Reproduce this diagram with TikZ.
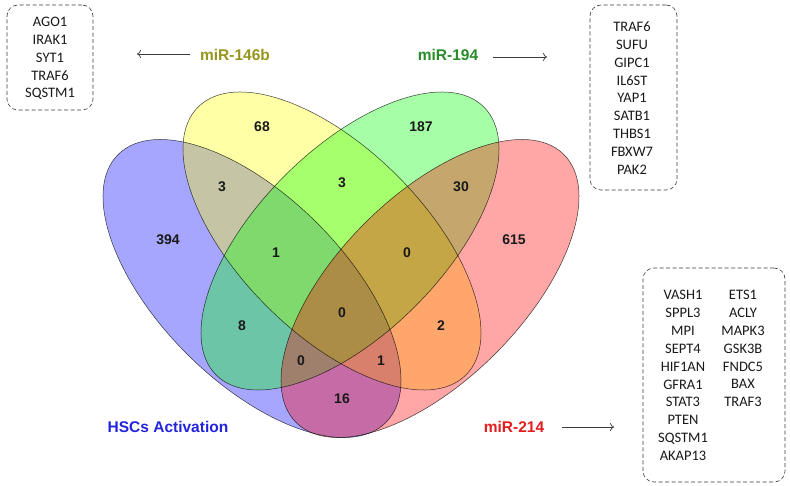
\documentclass[tikz,border=0pt]{standalone}
\usepackage{fontspec}
\setmainfont{Liberation Sans}
\newfontfamily\boxfont{Carlito}
\usetikzlibrary{arrows.meta}
\definecolor{vBlue}{RGB}{0,0,255}
\definecolor{vYellow}{RGB}{255,255,0}
\definecolor{vGreen}{RGB}{0,255,0}
\definecolor{vRed}{RGB}{255,0,0}
\definecolor{tHSC}{RGB}{35,35,220}
\definecolor{t214}{RGB}{228,30,30}
\definecolor{t146}{RGB}{150,150,30}
\definecolor{t194}{RGB}{40,140,40}
\definecolor{edge}{RGB}{60,60,60}
\begin{document}
\begin{tikzpicture}[x=1pt,y=-1pt,
  vfill/.style={fill opacity=0.35},
  vedge/.style={draw=black, draw opacity=0.75, line width=0.5pt},
  num/.style={font=\fontsize{14}{16}\selectfont\bfseries, text=black!90, inner sep=0pt},
  setlab/.style={font=\fontsize{15.5}{18}\selectfont\bfseries, inner sep=0pt},
  gbox/.style={draw=edge, dashed, dash pattern=on 4pt off 2.5pt, line width=0.6pt, rounded corners=11pt},
  boxtxt/.style={font=\boxfont\fontsize{14.5}{17.85}\selectfont, align=center, inner sep=0pt, text=black!90},
  arr/.style={draw=edge, line width=0.7pt, -{To[length=4pt,width=8pt]}}
]
\useasboundingbox (0,0) rectangle (790,486);
\fill[white] (0,0) rectangle (790,486);

% ellipse fills
\fill[vfill, vBlue, rotate around={-45:(252,288.5)}] (252,288.5) ellipse [x radius=189.4pt, y radius=92.3pt];
\fill[vfill, vYellow, rotate around={-45:(332,241)}] (332,241) ellipse [x radius=189.4pt, y radius=92.3pt];
\fill[vfill, vGreen, rotate around={45:(350,241)}] (350,241) ellipse [x radius=189.4pt, y radius=92.3pt];
\fill[vfill, vRed, rotate around={45:(430,288.5)}] (430,288.5) ellipse [x radius=189.4pt, y radius=92.3pt];
% ellipse edges
\draw[vedge, rotate around={-45:(252,288.5)}] (252,288.5) ellipse [x radius=189.4pt, y radius=92.3pt];
\draw[vedge, rotate around={-45:(332,241)}] (332,241) ellipse [x radius=189.4pt, y radius=92.3pt];
\draw[vedge, rotate around={45:(350,241)}] (350,241) ellipse [x radius=189.4pt, y radius=92.3pt];
\draw[vedge, rotate around={45:(430,288.5)}] (430,288.5) ellipse [x radius=189.4pt, y radius=92.3pt];

% region counts
\node[num] (n68)  at (262,127) {68};
\node[num] (n187) at (421,127) {187};
\node[num] (n3a)  at (222,187) {3};
\node[num] (n3b)  at (342,183) {3};
\node[num] (n30)  at (461,187) {30};
\node[num] (n394) at (168,240) {394};
\node[num] (n615) at (514,240) {615};
\node[num] (n1a)  at (276,253) {1};
\node[num] (n0a)  at (407,253) {0};
\node[num] (n0c)  at (342,313) {0};
\node[num] (n8)   at (242,326) {8};
\node[num] (n2)   at (441,326) {2};
\node[num] (n0b)  at (301,361) {0};
\node[num] (n1b)  at (381,361) {1};
\node[num] (n16)  at (342,399) {16};

% set labels
\node[setlab, text=tHSC] (lHSC) at (168,427) {HSCs Activation};
\node[setlab, text=t214] (l214) at (514,427) {miR-214};
\node[setlab, text=t146] (l146) at (235,55) {miR-146b};
\node[setlab, text=t194] (l194) at (448,55) {miR-194};

% gene boxes
\node[gbox, minimum width=86pt, minimum height=105pt] (box1) at (50,57.5) {};
\node[boxtxt] (t1) at (50,58.5) {AGO1\\IRAK1\\SYT1\\TRAF6\\SQSTM1};
\node[gbox, minimum width=87pt, minimum height=185pt] (box2) at (633.5,97.5) {};
\node[boxtxt] (t2) at (632,98) {TRAF6\\SUFU\\GIPC1\\IL6ST\\YAP1\\SATB1\\THBS1\\FBXW7\\PAK2};
\node[gbox, minimum width=142pt, minimum height=214pt] (box3) at (714,375) {};
\node[boxtxt] (t3a) at (683,375.5) {VASH1\\SPPL3\\MPI\\SEPT4\\HIF1AN\\GFRA1\\STAT3\\PTEN\\SQSTM1\\AKAP13};
\node[boxtxt] (t3b) at (743,348.5) {ETS1\\ACLY\\MAPK3\\GSK3B\\FNDC5\\BAX\\TRAF3};

% arrows
\coordinate (a1s) at (190,54);
\coordinate (a1e) at (137,54);
\coordinate (a2s) at (493,57);
\coordinate (a2e) at (547,57);
\coordinate (a3s) at (562,427);
\coordinate (a3e) at (614,427);
\draw[arr] (a1s) -- (a1e);
\draw[arr] (a2s) -- (a2e);
\draw[arr] (a3s) -- (a3e);
\end{tikzpicture}
\end{document}
